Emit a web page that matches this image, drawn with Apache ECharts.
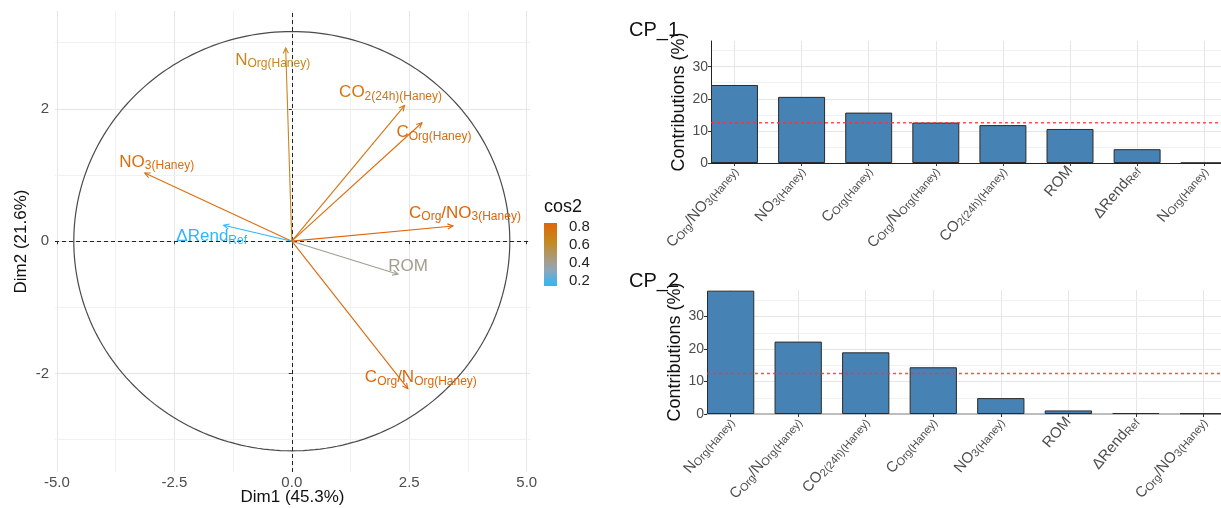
<!DOCTYPE html>
<html>
<head>
<meta charset="utf-8">
<script src="https://cdn.jsdelivr.net/npm/echarts@6/dist/echarts.min.js"></script>
<style>
  html, body { margin: 0; padding: 0; background: #ffffff; }
  #chart { width: 1221px; height: 508px; }
</style>
</head>
<body>
<div id="chart"></div>
<script>
// ---------- PCA variables (Dim1 x Dim2 correlation map) ----------
const varIds  = ['NOrg', 'CO2', 'COrg', 'NO3', 'COrgNO3', 'dRend', 'ROM', 'COrgNOrg'];
const dim1    = [-0.13, 2.40, 2.77, -3.13, 3.43, -1.45, 2.26, 2.47];
const dim2    = [ 2.92, 2.05, 1.79,  1.03, 0.23,  0.24, -0.50, -2.23];
const cos2    = [ 0.65, 0.76, 0.80,  0.79, 0.838, 0.148, 0.41, 0.82];
const circleRadius = [4.64, 3.17];          // reference circle, in axis units
const dimTicksX = [-5, -2.5, 0, 2.5, 5];
const dimTicksY = [-2, 0, 2];
const cosTicks  = [0.2, 0.4, 0.6, 0.8];

// ---------- Contributions of the variables to each component ----------
const cp1Categories = ['COrgNO3', 'NO3', 'COrg', 'COrgNOrg', 'CO2', 'ROM', 'dRend', 'NOrg'];
const cp1Values     = [24.3, 20.6, 15.7, 12.6, 11.8, 10.6, 4.3, 0.05];
const cp2Categories = ['NOrg', 'COrgNOrg', 'CO2', 'COrg', 'NO3', 'ROM', 'dRend', 'COrgNO3'];
const cp2Values     = [38.0, 22.3, 19.0, 14.4, 4.9, 1.1, 0.3, 0.2];
const contribTicks  = [0, 10, 20, 30];

// Rich-text names with subscripts
const varLabels = {
  NOrg:     '{m|N}{s|Org(Haney)}',
  CO2:      '{m|CO}{s|2(24h)(Haney)}',
  COrg:     '{m|C}{s|Org(Haney)}',
  NO3:      '{m|NO}{s|3(Haney)}',
  COrgNO3:  '{m|C}{s|Org}{m|/}{m|NO}{s|3(Haney)}',
  dRend:    '{m|\u0394Rend}{s|Ref}',
  ROM:      '{m|ROM}',
  COrgNOrg: '{m|C}{s|Org}{m|/}{m|N}{s|Org(Haney)}'
};

// Label placement relative to the arrow tip (pixels)
const labelNudge = {
  NOrg: [-13, 12], CO2: [-14, -13], COrg: [12, 10], NO3: [12, -11],
  COrgNO3: [12, -13], dRend: [-12, 11], ROM: [10, -8], COrgNOrg: [13, -11]
};

const FONT = '"Liberation Sans", Arial, Helvetica, sans-serif';

// ---------- cos2 colour scale ----------
const cosMin = Math.min(...cos2), cosMax = Math.max(...cos2);
const cosStops = [[0, '#2DB7FA'], [0.25, '#8EA6BA'], [0.42, '#A89C82'], [0.7, '#C48A20'], [1, '#E0650A']];
function hexRgb(h) { return [1, 3, 5].map(k => parseInt(h.slice(k, k + 2), 16)); }
function cosColor(v) {
  const t = Math.max(0, Math.min(1, (v - cosMin) / (cosMax - cosMin)));
  for (let k = 1; k < cosStops.length; k++) {
    if (t <= cosStops[k][0]) {
      const [t0, c0] = cosStops[k - 1], [t1, c1] = cosStops[k];
      const f = (t - t0) / (t1 - t0), a = hexRgb(c0), b = hexRgb(c1);
      return 'rgb(' + a.map((x, j) => Math.round(x + (b[j] - x) * f)).join(',') + ')';
    }
  }
  return cosStops[cosStops.length - 1][1];
}

// Minor grid positions: halfway between major ticks, extended over the axis range
function minorLines(ticks, min, max) {
  const step = ticks[1] - ticks[0], out = [];
  for (let v = ticks[0] - step / 2; v < max; v += step) if (v > min) out.push(v);
  return out;
}

const plotRich = {
  m: { fontSize: 17, fontFamily: FONT, lineHeight: 20 },
  s: { fontSize: 12, fontFamily: FONT, lineHeight: 12, verticalAlign: 'bottom' }
};
const axisRich = {
  m: { fontSize: 15, fontFamily: FONT, color: '#4D4D4D', lineHeight: 17 },
  s: { fontSize: 11, fontFamily: FONT, color: '#4D4D4D', lineHeight: 11, verticalAlign: 'bottom' }
};

const X0 = [-5.04, 5.07], Y0 = [-3.49, 3.48];
const X1 = [-0.35, 7.25], Y1 = [0, 38];
const X2 = [-0.35, 7.26], Y2 = [0, 38.2];

const majorGrid = { show: true, lineStyle: { color: '#E6E6E6', width: 1 } };
const tickText = { fontFamily: FONT, color: '#4D4D4D' };

function markLines(axis, vals, style, z) {
  return {
    silent: true, symbol: ['none', 'none'], label: { show: false }, animation: false, z: z,
    lineStyle: style,
    data: vals.map(v => ({ [axis]: v, lineStyle: Object.assign({}, style) }))
  };
}

// Horizontal dashed line at the expected mean contribution (100 / number of variables)
function meanLineSeries(grid, cats) {
  return {
    type: 'custom', xAxisIndex: grid, yAxisIndex: grid, z: 10, silent: true,
    data: [[0, 100 / cats.length]],
    encode: { x: 0, y: 1 },
    renderItem: function (params, api) {
      const cs = params.coordSys;
      const y = api.coord([0, api.value(1)])[1];
      return {
        type: 'line',
        shape: { x1: cs.x, y1: y, x2: cs.x + cs.width, y2: y },
        style: { stroke: '#FF3030', lineWidth: 1.5, lineDash: [3, 3], opacity: 0.85 }
      };
    }
  };
}

function cpAxes(grid, xr, yr, cats, darkAxes) {
  const idx = cats.map((c, i) => i);
  return {
    x: {
      gridIndex: grid, type: 'value', min: xr[0], max: xr[1],
      axisLine: { show: true, onZero: false, lineStyle: { color: darkAxes ? '#222' : '#BDBDBD', width: darkAxes ? 1 : 2 } },
      axisTick: { show: true, customValues: idx, length: 3, lineStyle: { color: '#333' } },
      axisLabel: { customValues: idx, rotate: 50, margin: 5, formatter: v => varLabels[cats[v]], rich: axisRich },
      splitLine: majorGrid
    },
    y: {
      gridIndex: grid, type: 'value', min: yr[0], max: yr[1],
      name: 'Contributions (%)', nameLocation: 'middle', nameGap: 23, nameMoveOverlap: false,
      nameTextStyle: { fontFamily: FONT, fontSize: 18, color: '#111' },
      axisLine: { show: darkAxes, onZero: false, lineStyle: { color: '#222' } },
      axisTick: { show: true, customValues: contribTicks, length: 3, lineStyle: { color: '#333' } },
      axisLabel: Object.assign({ customValues: contribTicks, fontSize: 14, margin: 3 }, tickText),
      splitLine: majorGrid
    }
  };
}
const ax1 = cpAxes(1, X1, Y1, cp1Categories, true);
const ax2 = cpAxes(2, X2, Y2, cp2Categories, false);

// Legend geometry for the cos2 colour bar
const legBar = { x: 544, y: 223, w: 13, h: 63 };
const legendChildren = [
  { type: 'text', x: legBar.x, y: legBar.y - 16, style: { text: 'cos2', fontFamily: FONT, fontSize: 18, fill: '#111', verticalAlign: 'middle' } },
  { type: 'rect', shape: { x: legBar.x, y: legBar.y, width: legBar.w, height: legBar.h },
    style: { fill: new echarts.graphic.LinearGradient(0, 1, 0, 0, cosStops.map(s => ({ offset: s[0], color: s[1] }))) } }
].concat(cosTicks.map(v => ({
  type: 'text', x: legBar.x + legBar.w + 12,
  y: legBar.y + legBar.h * (1 - (v - cosMin) / (cosMax - cosMin)),
  style: { text: v.toFixed(1), fontFamily: FONT, fontSize: 15, fill: '#222', verticalAlign: 'middle' }
})));

const barItem = { color: '#4682B4', borderColor: '#2b2b2b', borderWidth: 1 };

const option = {
  animation: false,
  backgroundColor: '#ffffff',
  textStyle: { fontFamily: FONT },
  grid: [
    { left: 55, top: 11, width: 475, height: 461, outerBoundsMode: 'none' },
    { left: 711, top: 41, width: 510, height: 122, outerBoundsMode: 'none' },
    { left: 707, top: 290, width: 514, height: 124, outerBoundsMode: 'none' }
  ],
  xAxis: [
    {
      gridIndex: 0, type: 'value', min: X0[0], max: X0[1],
      name: 'Dim1 (45.3%)', nameLocation: 'middle', nameGap: 17, nameMoveOverlap: false,
      nameTextStyle: { fontFamily: FONT, fontSize: 17, color: '#111' },
      axisLine: { show: false },
      axisTick: { show: true, customValues: dimTicksX, length: 3, lineStyle: { color: '#333' } },
      axisLabel: Object.assign({ customValues: dimTicksX, fontSize: 15, margin: 3, formatter: v => v.toFixed(1) }, tickText),
      splitLine: majorGrid
    },
    ax1.x, ax2.x
  ],
  yAxis: [
    {
      gridIndex: 0, type: 'value', min: Y0[0], max: Y0[1],
      name: 'Dim2 (21.6%)', nameLocation: 'middle', nameGap: 25, nameMoveOverlap: false,
      nameTextStyle: { fontFamily: FONT, fontSize: 17, color: '#111' },
      axisLine: { show: false },
      axisTick: { show: true, customValues: dimTicksY, length: 3, lineStyle: { color: '#333' } },
      axisLabel: Object.assign({ customValues: dimTicksY, fontSize: 15, margin: 6 }, tickText),
      splitLine: majorGrid
    },
    ax1.y, ax2.y
  ],
  graphic: [
    { type: 'text', left: 629, top: 20, style: { text: 'CP_1', fontFamily: FONT, fontSize: 20, fill: '#111' } },
    { type: 'text', left: 629, top: 271, style: { text: 'CP_2', fontFamily: FONT, fontSize: 20, fill: '#111' } },
    { type: 'group', children: legendChildren }
  ],
  series: [
    // minor grid lines, PCA panel
    {
      type: 'line', xAxisIndex: 0, yAxisIndex: 0, data: [], z: 0,
      markLine: markLines('xAxis', minorLines(dimTicksX, X0[0], X0[1]), { color: '#F1F1F1', type: 'solid', width: 1 }, 0)
    },
    {
      type: 'line', xAxisIndex: 0, yAxisIndex: 0, data: [], z: 0,
      markLine: markLines('yAxis', minorLines(dimTicksY, Y0[0], Y0[1]), { color: '#F1F1F1', type: 'solid', width: 1 }, 0)
    },
    // reference circle
    {
      type: 'custom', xAxisIndex: 0, yAxisIndex: 0, z: 2, silent: true,
      data: [[0, 0]],
      renderItem: function (params, api) {
        const pts = [];
        for (let k = 0; k <= 240; k++) {
          const a = (k / 240) * Math.PI * 2;
          pts.push(api.coord([circleRadius[0] * Math.cos(a), circleRadius[1] * Math.sin(a)]));
        }
        return { type: 'polyline', shape: { points: pts }, style: { stroke: '#4a4a4a', lineWidth: 1.2, fill: null } };
      },
      // dashed axes through the origin
      markLine: markLines('xAxis', [0], { color: '#222', type: [4, 3], width: 1 }, 3)
    },
    {
      type: 'line', xAxisIndex: 0, yAxisIndex: 0, data: [], z: 3,
      markLine: markLines('yAxis', [0], { color: '#222', type: [4, 3], width: 1 }, 3)
    },
    // variable arrows
    {
      type: 'custom', xAxisIndex: 0, yAxisIndex: 0, z: 6, silent: true,
      data: dim1.map((x, i) => [x, dim2[i], cos2[i]]),
      encode: { x: 0, y: 1 },
      renderItem: function (params, api) {
        const i = params.dataIndex;
        const o = api.coord([0, 0]);
        const p = api.coord([api.value(0), api.value(1)]);
        const col = cosColor(api.value(2));
        const ang = Math.atan2(p[1] - o[1], p[0] - o[0]);
        const hl = 6, ha = Math.PI / 7;
        const h1 = [p[0] - hl * Math.cos(ang - ha), p[1] - hl * Math.sin(ang - ha)];
        const h2 = [p[0] - hl * Math.cos(ang + ha), p[1] - hl * Math.sin(ang + ha)];
        const nd = labelNudge[varIds[i]];
        return {
          type: 'group',
          children: [
            { type: 'line', shape: { x1: o[0], y1: o[1], x2: p[0], y2: p[1] }, style: { stroke: col, lineWidth: 1.1 } },
            { type: 'polyline', shape: { points: [h1, p, h2] }, style: { stroke: col, fill: null, lineWidth: 1.1 } },
            { type: 'text', x: p[0] + nd[0], y: p[1] + nd[1],
              style: { text: varLabels[varIds[i]], rich: plotRich, fill: col, align: 'center', verticalAlign: 'middle', fontFamily: FONT, fontSize: 17 } }
          ]
        };
      }
    },
    // CP_1
    {
      type: 'line', xAxisIndex: 1, yAxisIndex: 1, data: [], z: 0,
      markLine: markLines('yAxis', minorLines(contribTicks, Y1[0], Y1[1]), { color: '#F1F1F1', type: 'solid', width: 1 }, 0)
    },
    {
      type: 'bar', xAxisIndex: 1, yAxisIndex: 1, barWidth: '70%', z: 4,
      data: cp1Values.map((v, i) => [i, v]),
      itemStyle: barItem
    },
    meanLineSeries(1, cp1Categories),
    // CP_2
    {
      type: 'line', xAxisIndex: 2, yAxisIndex: 2, data: [], z: 0,
      markLine: markLines('yAxis', minorLines(contribTicks, Y2[0], Y2[1]), { color: '#F1F1F1', type: 'solid', width: 1 }, 0)
    },
    {
      type: 'bar', xAxisIndex: 2, yAxisIndex: 2, barWidth: '70%', z: 4,
      data: cp2Values.map((v, i) => [i, v]),
      itemStyle: barItem
    },
    meanLineSeries(2, cp2Categories)
  ]
};

const chart = echarts.init(document.getElementById('chart'), null, { renderer: 'canvas' });
chart.setOption(option);
</script>
</body>
</html>
